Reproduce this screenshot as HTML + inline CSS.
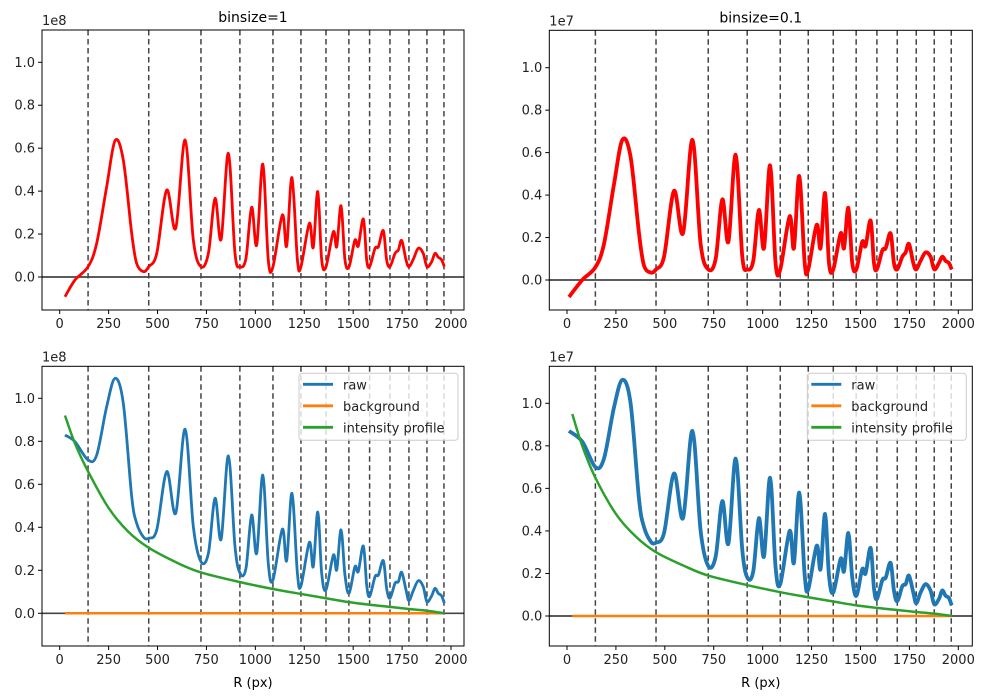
<!DOCTYPE html>
<html><head><meta charset="utf-8"><style>
body{margin:0;background:#fff;}
svg{display:block;font-family:"DejaVu Sans","Liberation Sans",sans-serif;}
</style></head><body>
<svg id="fig" width="985" height="699" viewBox="0 0 985 699"></svg>
<script>
// ---- data ----
const dashX=[145,455,722,921,1090,1233,1361,1478,1584,1688,1785,1877,1964];
const xL=[27,78,145,189,240,283,325,368,393,428,455,496,547,593,641,683,722,760,794,825,862,896,922,952,981,1007,1038,1066,1090,1138,1160,1187,1215,1233,1276,1296,1319,1339,1361,1399,1416,1438,1458,1479,1509,1526,1552,1569,1584,1612,1629,1654,1671,1688,1714,1731,1748,1770,1785,1807,1833,1858,1877,1901,1918,1935,1952,1966];
const xR=[10,78,145,189,240,283,325,368,393,428,455,496,547,593,641,683,722,760,794,825,862,896,922,952,981,1007,1038,1066,1090,1138,1160,1187,1215,1233,1276,1296,1319,1339,1361,1399,1416,1438,1458,1479,1509,1526,1552,1569,1584,1612,1629,1654,1671,1688,1714,1731,1748,1770,1785,1807,1833,1858,1877,1901,1918,1935,1952,1966];
const redL=[-0.092,-0.014,0.048,0.157,0.42,0.635,0.545,0.203,0.064,0.025,0.048,0.11,0.405,0.227,0.638,0.172,0.048,0.11,0.366,0.175,0.576,0.11,0.048,0.087,0.325,0.149,0.526,0.08,0.048,0.289,0.144,0.463,0.08,0.048,0.25,0.138,0.398,0.08,0.048,0.211,0.141,0.332,0.08,0.048,0.172,0.144,0.27,0.08,0.048,0.134,0.141,0.216,0.08,0.048,0.11,0.126,0.17,0.08,0.048,0.082,0.134,0.11,0.048,0.071,0.11,0.092,0.08,0.048];
const redR=[-0.08,0.0,0.06,0.17,0.45,0.66,0.58,0.22,0.07,0.035,0.05,0.11,0.42,0.22,0.66,0.17,0.05,0.1,0.38,0.18,0.59,0.11,0.05,0.09,0.33,0.15,0.54,0.08,0.05,0.3,0.15,0.49,0.08,0.05,0.26,0.15,0.41,0.08,0.05,0.22,0.15,0.34,0.08,0.05,0.18,0.16,0.28,0.08,0.05,0.14,0.15,0.22,0.08,0.05,0.11,0.13,0.17,0.08,0.05,0.09,0.13,0.11,0.05,0.08,0.11,0.09,0.08,0.05];
const rawL=[0.829,0.798,0.713,0.736,0.961,1.093,0.977,0.543,0.42,0.355,0.349,0.388,0.659,0.465,0.856,0.403,0.24,0.279,0.535,0.344,0.732,0.31,0.186,0.209,0.457,0.279,0.643,0.233,0.155,0.391,0.245,0.558,0.186,0.127,0.33,0.217,0.471,0.186,0.109,0.271,0.202,0.388,0.178,0.093,0.217,0.194,0.313,0.132,0.078,0.171,0.178,0.245,0.116,0.07,0.14,0.147,0.191,0.109,0.059,0.105,0.152,0.124,0.054,0.081,0.116,0.093,0.081,0.047];
const rawR=[0.87,0.82,0.70,0.74,0.98,1.11,1.0,0.55,0.42,0.35,0.345,0.39,0.67,0.46,0.87,0.40,0.235,0.28,0.54,0.34,0.74,0.31,0.18,0.21,0.46,0.28,0.65,0.23,0.15,0.40,0.25,0.58,0.19,0.125,0.33,0.22,0.48,0.19,0.11,0.27,0.21,0.39,0.18,0.095,0.22,0.2,0.32,0.13,0.08,0.17,0.18,0.25,0.12,0.07,0.14,0.15,0.19,0.11,0.06,0.11,0.15,0.12,0.055,0.08,0.12,0.095,0.085,0.05];
const gx=[27,78,145,250,350,455,600,722,922,1090,1233,1361,1479,1584,1688,1785,1877,1966];
const greenL=[0.92,0.79,0.66,0.49,0.38,0.305,0.235,0.19,0.145,0.113,0.09,0.07,0.052,0.04,0.03,0.02,0.012,0.0];
const greenR=[0.95,0.80,0.65,0.48,0.375,0.30,0.235,0.19,0.145,0.112,0.088,0.068,0.05,0.038,0.028,0.019,0.011,0.0];
const bgX=[27,1966];
const bgY=[0,0];
const xTicks=[0,250,500,750,1000,1250,1500,1750,2000];
const yTicks=[0,0.2,0.4,0.6,0.8,1.0];
const yTickLabels=["0.0","0.2","0.4","0.6","0.8","1.0"];

const NS="http://www.w3.org/2000/svg";
const svg=document.getElementById('fig');
function el(tag,attrs,parent){const e=document.createElementNS(NS,tag);for(const k in attrs)e.setAttribute(k,attrs[k]);(parent||svg).appendChild(e);return e;}
function smooth(pts){let d='M'+pts[0][0].toFixed(2)+','+pts[0][1].toFixed(2);
 for(let i=0;i<pts.length-1;i++){const p0=pts[Math.max(0,i-1)],p1=pts[i],p2=pts[i+1],p3=pts[Math.min(pts.length-1,i+2)];
  const c1=[p1[0]+(p2[0]-p0[0])/6,p1[1]+(p2[1]-p0[1])/6],c2=[p2[0]-(p3[0]-p1[0])/6,p2[1]-(p3[1]-p1[1])/6];
  d+=`C${c1[0].toFixed(2)},${c1[1].toFixed(2)} ${c2[0].toFixed(2)},${c2[1].toFixed(2)} ${p2[0].toFixed(2)},${p2[1].toFixed(2)}`;}
 return d;}

function panel(cfg){
 const g=el('g',{});
 
 
 const {L,R,T,B,x0px,ypx0,ypx1}=cfg;
 const sx=v=>x0px+v*(391.3/2000);
 const sy=v=>ypx0-v*(ypx0-ypx1);
 const cp='cp'+cfg.name;
 const defs=el('defs',{},g);const c=el('clipPath',{id:cp},defs);el('rect',{x:L,y:T,width:R-L,height:B-T},c);
 const plot=el('g',{'clip-path':`url(#${cp})`},g);
 dashX.forEach(v=>{const l=el('line',{x1:sx(v),x2:sx(v),y1:T,y2:B,stroke:'#444',"stroke-width":1.5,"stroke-dasharray":"5.5,3.5"},plot);
  
  });
 const z=el('line',{x1:L,x2:R,y1:sy(0),y2:sy(0),stroke:'#444',"stroke-width":1.7},plot);
 
 
 cfg.series.forEach(s=>{const pts=s.x.map((v,i)=>[sx(v),sy(s.y[i])]);
  const p=el('path',{d:smooth(pts),fill:'none',stroke:s.color,"stroke-width":s.w,"stroke-linejoin":"round"},plot);
  
  });
 el('rect',{x:L,y:T,width:R-L,height:B-T,fill:'none',stroke:'#000',"stroke-width":1},g);
 xTicks.forEach(v=>{const x=sx(v);el('line',{x1:x,x2:x,y1:B,y2:B+4,stroke:'#000'},g);
  const t=el('text',{x:x,y:B+18,"text-anchor":"middle","font-size":13,fill:'#222'},g);t.textContent=v;
  
  });
 yTicks.forEach((v,i)=>{const y=sy(v);el('line',{x1:L-4,x2:L,y1:y,y2:y,stroke:'#000'},g);
  const t=el('text',{x:L-7,y:y+4.5,"text-anchor":"end","font-size":13,fill:'#222'},g);t.textContent=yTickLabels[i];
  
  });
 const off=el('text',{x:L,y:T-5,"font-size":13,fill:'#222'},g);off.textContent=cfg.offset;
 
 
 if(cfg.title){const t=el('text',{x:(L+R)/2,y:T-8,"text-anchor":"middle","font-size":14,fill:'#000'},g);t.textContent=cfg.title;
  
  }
 if(cfg.xlabel){const t=el('text',{x:(L+R)/2,y:687,"text-anchor":"middle","font-size":13,fill:'#000'},g);t.textContent=cfg.xlabel;
  
  }
 if(cfg.legend){const lg=el('g',{},g);
  
  
  const lx=R-165,ly=T+7;
  el('rect',{x:lx,y:ly,width:159,height:67,rx:3,fill:'rgba(255,255,255,0.8)',stroke:'#ccc'},lg);
  [['raw','#1f77b4'],['background','#ff7f0e'],['intensity profile','#2ca02c']].forEach((e,i)=>{
   const yy=ly+11+i*21.5;
   const ent=el('g',{},lg);
   
   
   el('line',{x1:lx+4,x2:lx+34,y1:yy,y2:yy,stroke:e[1],"stroke-width":2.8},ent);
   const t=el('text',{x:lx+44,y:yy+5,"font-size":13,fill:'#222'},ent);t.textContent=e[0];});}
}
panel({name:'panel-binsize-1-top',L:42,R:464,T:30,B:310,x0px:59.7,ypx0:277,ypx1:62.3,offset:'1e8',title:'binsize=1',
 series:[{name:'red-profile-line',x:xL,y:redL,color:'#ff0000',w:2.8}]});
panel({name:'panel-binsize-01-top',L:549.3,R:972.3,T:30.3,B:310,x0px:567,ypx0:280,ypx1:67.7,offset:'1e7',title:'binsize=0.1',
 series:[{name:'red-profile-line',x:xR,y:redR,color:'#ff0000',w:3.8}]});
panel({name:'panel-binsize-1-bottom',L:42,R:464,T:366.3,B:646,x0px:59.7,ypx0:613.3,ypx1:398.3,offset:'1e8',xlabel:'R (px)',legend:true,
 series:[{name:'raw-line',x:xL,y:rawL,color:'#1f77b4',w:2.8},{name:'background-line',x:bgX,y:bgY,color:'#ff7f0e',w:2.5},{name:'intensity-profile-line',x:gx,y:greenL,color:'#2ca02c',w:2.5}]});
panel({name:'panel-binsize-01-bottom',L:549.3,R:972.3,T:366.3,B:646,x0px:567,ypx0:616,ypx1:403.3,offset:'1e7',xlabel:'R (px)',legend:true,
 series:[{name:'raw-line',x:xR,y:rawR,color:'#1f77b4',w:3.8},{name:'background-line',x:bgX,y:bgY,color:'#ff7f0e',w:2.5},{name:'intensity-profile-line',x:gx,y:greenR,color:'#2ca02c',w:2.5}]});
</script>
</body></html>
